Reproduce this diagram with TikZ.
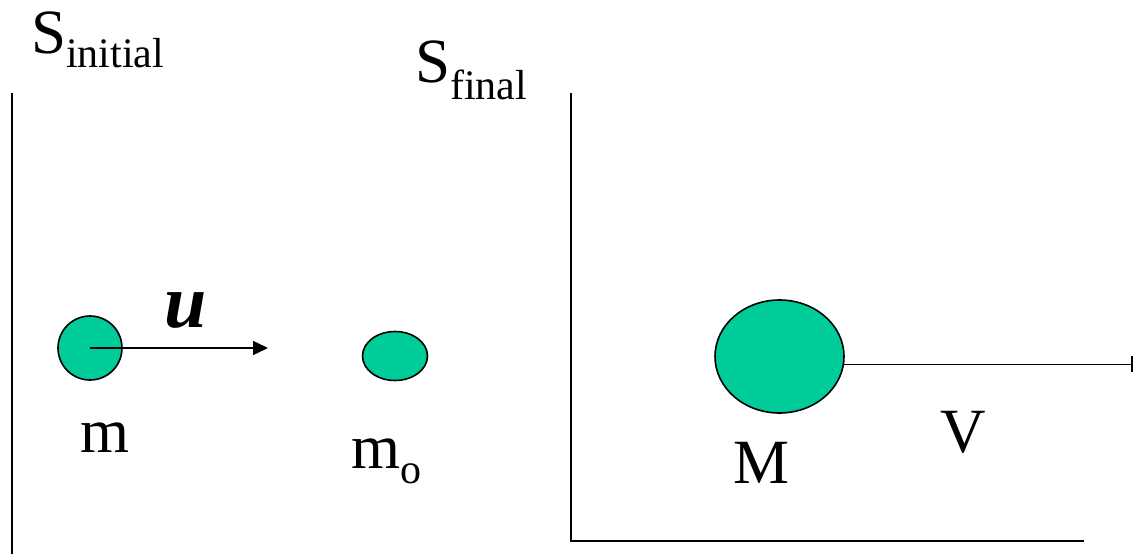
\documentclass[tikz,border=0pt]{standalone}
\usepackage{fontspec}
\setmainfont{Liberation Serif}
\usetikzlibrary{arrows.meta,shapes.geometric}
\definecolor{ballgreen}{RGB}{0,204,153}
\tikzset{
  big/.style={inner sep=0pt, anchor=base west, font=\fontsize{63}{63}\selectfont},
  ball/.style={draw=black, line width=1.6pt, fill=ballgreen, ellipse, inner sep=0pt},
  frame/.style={line width=2pt},
  conn/.style={line width=1.6pt},
}
\newcommand{\sbx}[2]{\raisebox{-#1pt}{\fontsize{42}{42}\selectfont #2}}
\begin{document}
\begin{tikzpicture}[x=1pt,y=-1pt]
\useasboundingbox (0,0) rectangle (1134,554);
% labels
\node[big] (si) at (31,53) {S\sbx{14}{initial}};
\node[big] (sf) at (415,82) {S\sbx{17}{final}};
% frames
\coordinate (l1) at (12,93);
\coordinate (l2) at (12,554);
\draw[frame] (l1) -- (l2);
\coordinate (f1) at (571,93);
\coordinate (f2) at (571,541);
\coordinate (f3) at (1084,541);
\draw[frame] (f1) -- (f2) -- (f3);
% balls
\node[ball, minimum width=64pt, minimum height=64pt] (mb) at (90,348) {};
\coordinate (ue) at (268,348);
\draw[conn, -{Triangle[length=15pt,width=14pt]}] (mb.center) -- (ue);
\node[inner sep=0pt, anchor=base west, font=\fontsize{76}{76}\selectfont\bfseries\itshape] (u) at (164,327) {u};
\node[ball, minimum width=65pt, minimum height=49pt] (mob) at (395,356) {};
\node[ball, minimum width=129pt, minimum height=113pt] (Mb) at (779.5,356.5) {};
\coordinate (ve) at (1133,364);
\draw[conn, -{Bar[width=16pt,line width=2pt]}] (Mb.-7) -- (Mb.-7 -| ve);
\node[big] (m) at (80,452) {m};
\node[big] (mo) at (351,468) {m\sbx{15}{o}};
\node[big] (M) at (733,483) {M};
\node[big] (V) at (940,452) {V};
\end{tikzpicture}
\end{document}
